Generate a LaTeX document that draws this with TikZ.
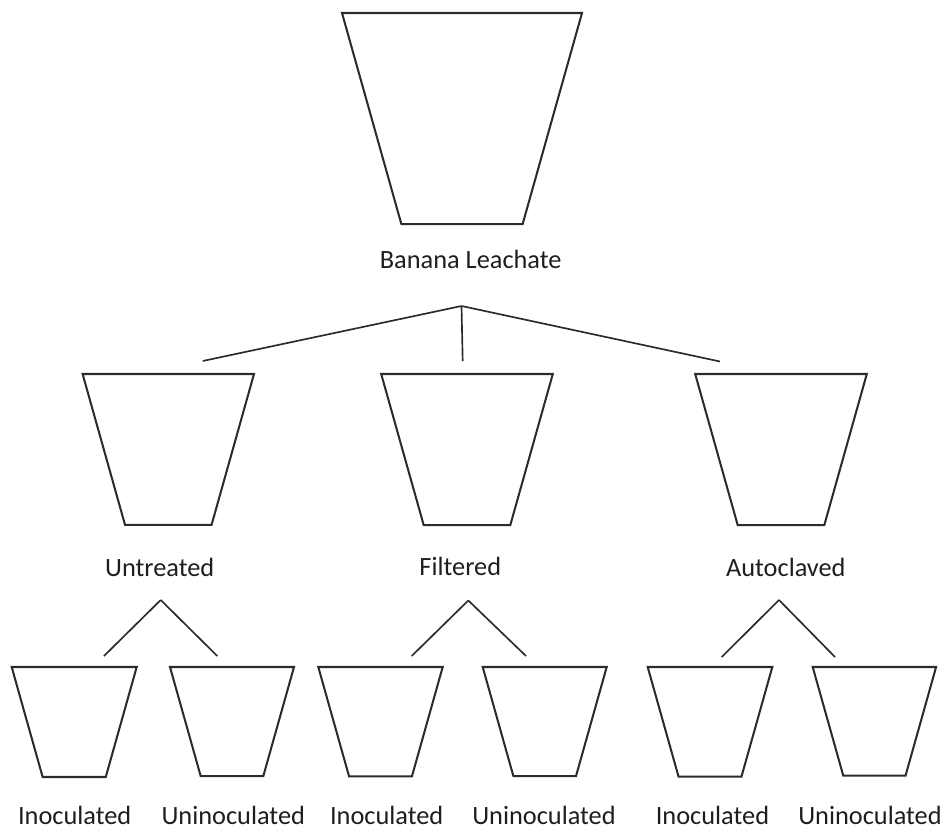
\documentclass[tikz,border=0pt]{standalone}
\usepackage{fontspec}
\setmainfont{Carlito}
\usetikzlibrary{positioning, calc}
\definecolor{Dark}{HTML}{2B2B2B}
\definecolor{Ink}{HTML}{1E1E1E}
\tikzset{
    bucket/.style={draw=Dark, line width=1.15pt, line join=miter},
    link/.style={draw=Dark, line width=0.95pt},
    lbl/.style={font=\fontsize{15}{18}\selectfont, text=Ink, inner sep=0pt, anchor=base},
}

\begin{document}
\begin{tikzpicture}[x=0.02cm, y=-0.02cm]
    \useasboundingbox (0,0) rectangle (947,832);

    % Buckets: name / centre x / top y / half top width
    \foreach \name/\cx/\ty/\s in {
        banana/462/13/120,
        untreated/168.3/374/85.7,
        filtered/467/374/85.8,
        autoclaved/781/374/85.8,
        inocA/74.2/667/62.5,
        uninocA/232/667/62,
        inocB/380.5/667/62.2,
        uninocB/544.7/667/62,
        inocC/710/667/62.3,
        uninocC/874.4/667/61.7
    } {
        \draw[bucket] ({\cx-\s},\ty) -- ({\cx+\s},\ty)
            -- ({\cx+0.505*\s},{\ty+1.76*\s}) -- ({\cx-0.505*\s},{\ty+1.76*\s}) -- cycle;
    }

    % Labels
    \node[lbl] (banana) at (470.7,268) {Banana Leachate};
    \node[lbl] (untreated) at (159.7,576) {Untreated};
    \node[lbl] (filtered) at (460.3,575) {Filtered};
    \node[lbl] (autoclaved) at (785.8,576) {Autoclaved};
    \node[lbl] (inocA) at (74.7,824) {Inoculated};
    \node[lbl] (uninocA) at (233.3,824) {Uninoculated};
    \node[lbl] (inocB) at (386.7,824) {Inoculated};
    \node[lbl] (uninocB) at (544,824) {Uninoculated};
    \node[lbl] (inocC) at (712.5,824) {Inoculated};
    \node[lbl] (uninocC) at (870,824) {Uninoculated};

    % Branch points and free ends
    \coordinate (bananaj) at (461.5,306);
    \coordinate (untreatedend) at (202.7,361);
    \coordinate (filteredend) at (462.7,361);
    \coordinate (autoclavedend) at (720,361.5);
    \coordinate (untreatedj) at (160.7,600);
    \coordinate (filteredj) at (468.3,600.5);
    \coordinate (autoclavedj) at (779,600);
    \coordinate (inocAend) at (104,656);
    \coordinate (uninocAend) at (217.3,656);
    \coordinate (inocBend) at (411.7,656);
    \coordinate (uninocBend) at (526,656);
    \coordinate (inocCend) at (721.7,657);
    \coordinate (uninocCend) at (835,657);

    % Connectors
    \foreach \a/\b in {bananaj/untreatedend, bananaj/filteredend, bananaj/autoclavedend,
        untreatedj/inocAend, untreatedj/uninocAend,
        filteredj/inocBend, filteredj/uninocBend,
        autoclavedj/inocCend, autoclavedj/uninocCend} {
        \draw[link] (\a) -- (\b);
    }
\end{tikzpicture}
\end{document}
